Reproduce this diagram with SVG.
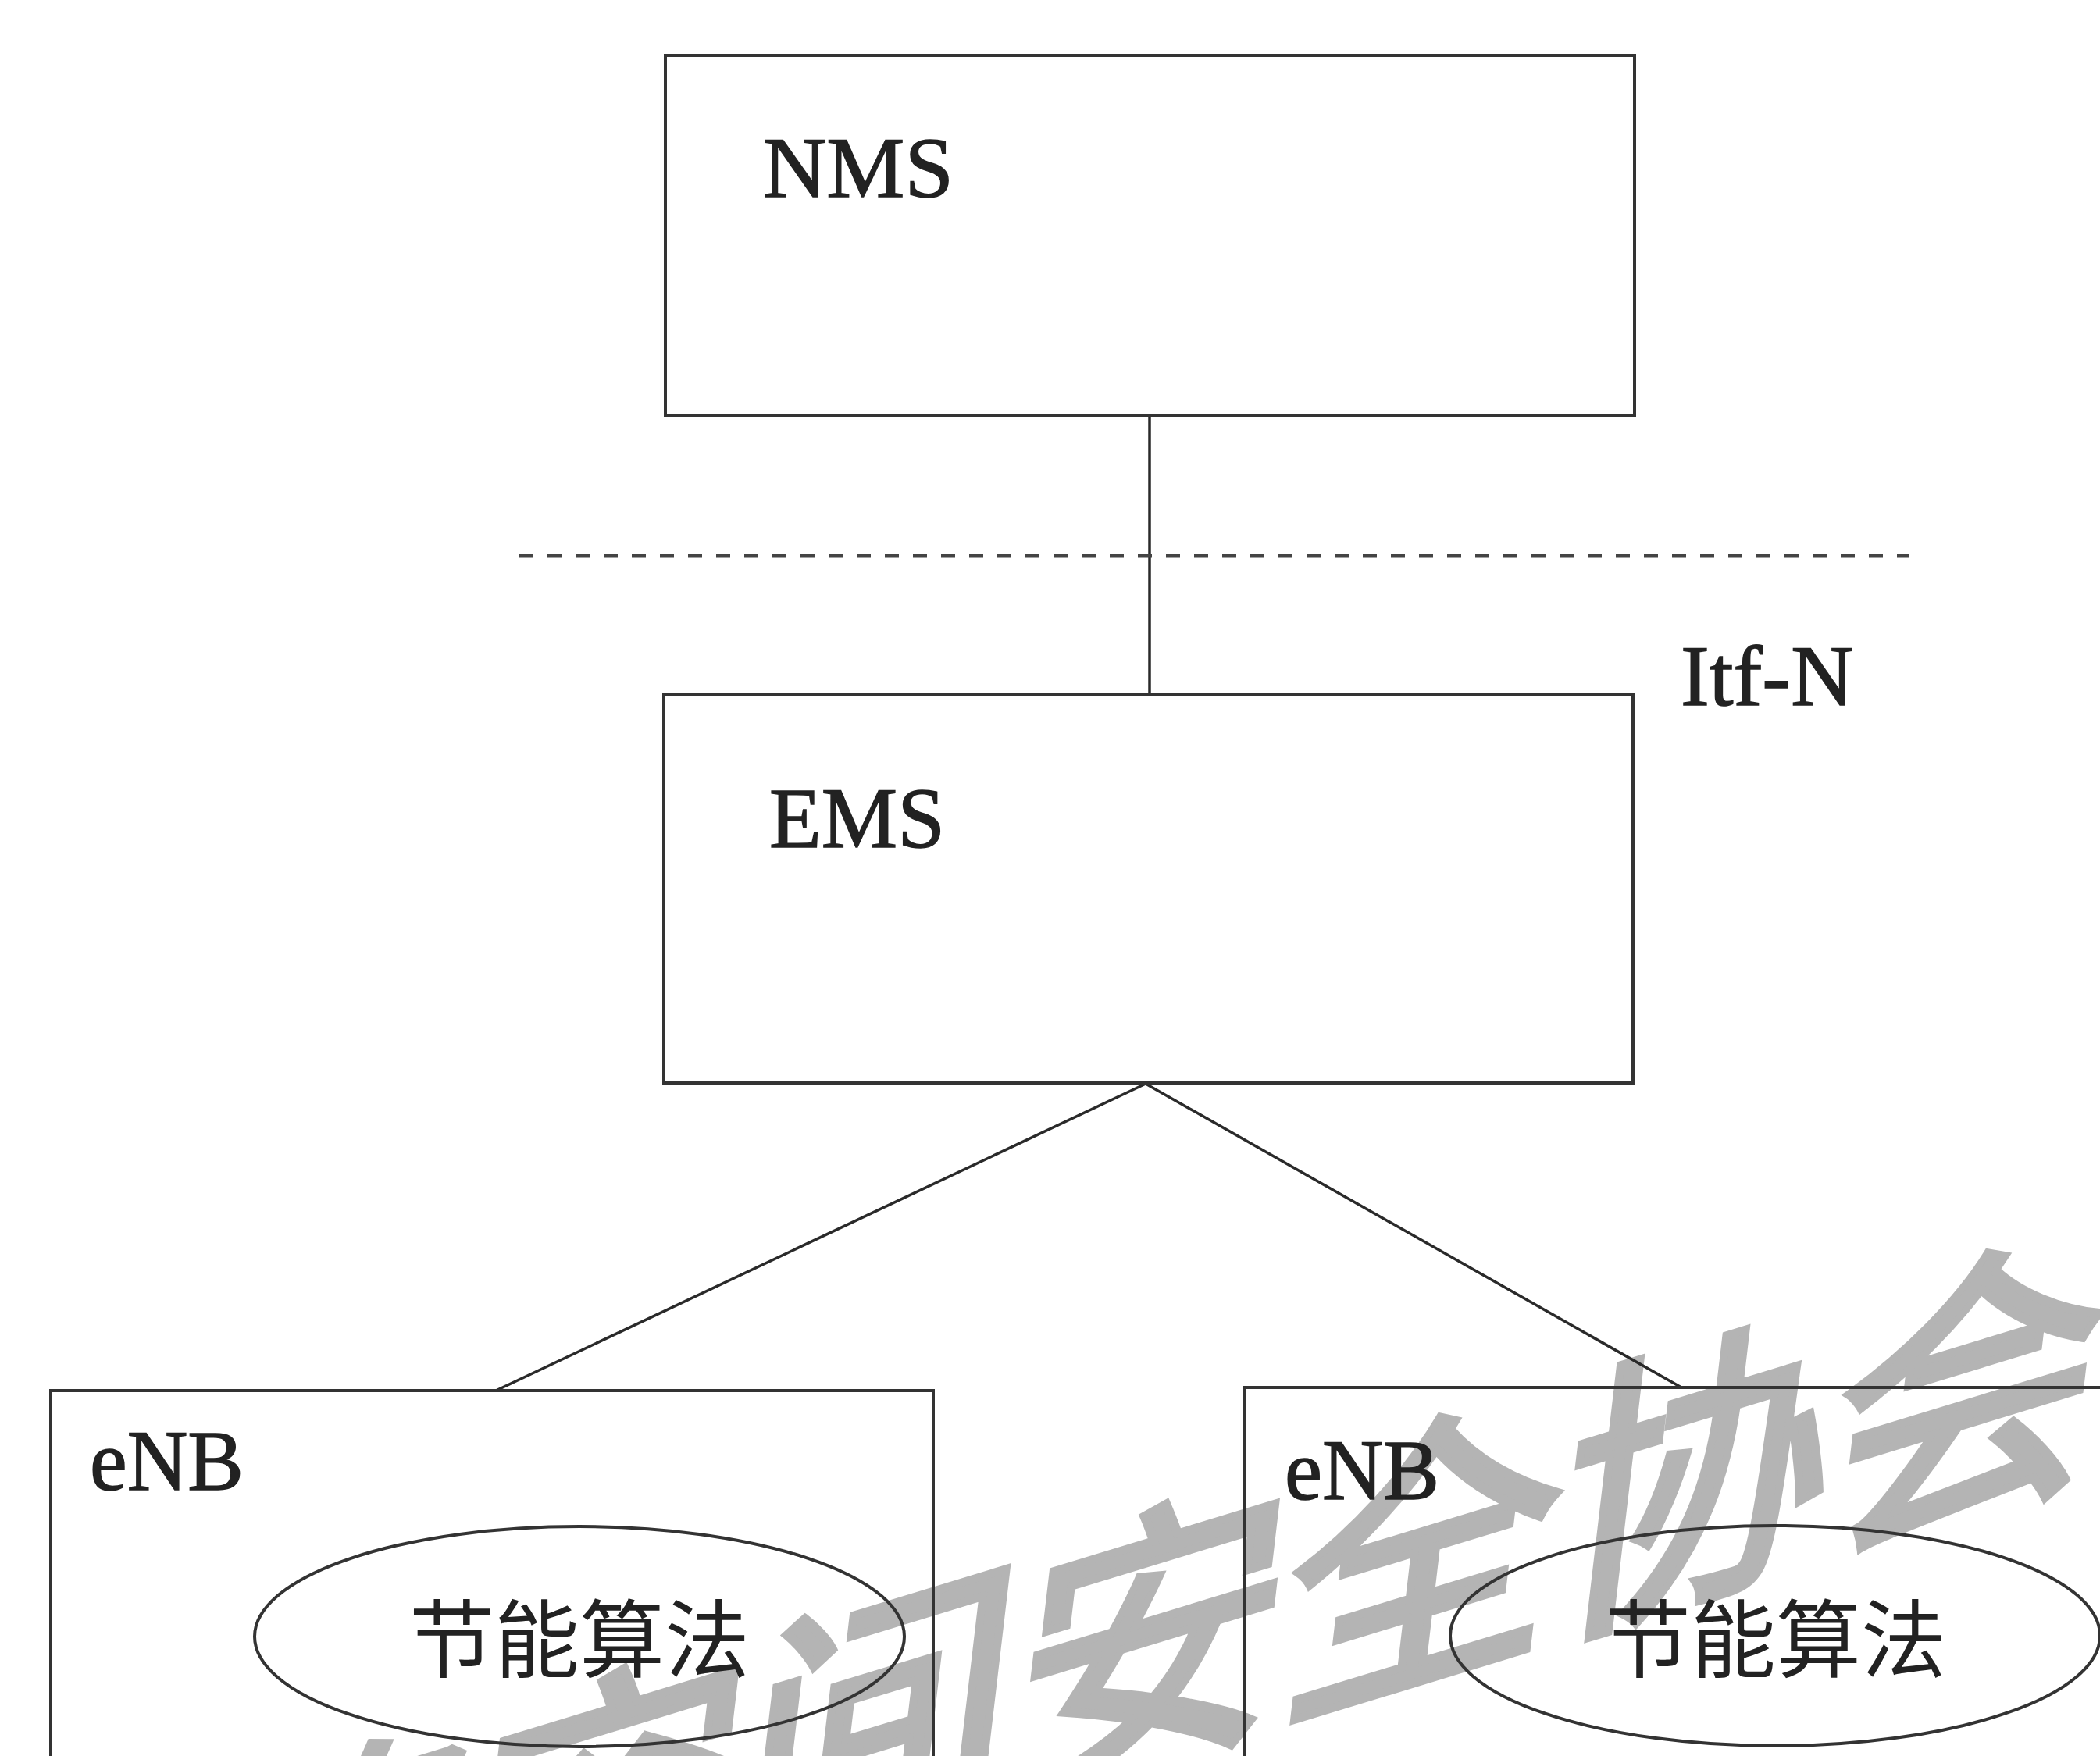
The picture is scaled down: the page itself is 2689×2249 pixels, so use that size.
<svg xmlns="http://www.w3.org/2000/svg" width="2689" height="2249" viewBox="0 0 2689 2249">
<style>
.box{fill:none;stroke:#333;stroke-width:4}
.conn{fill:none;stroke:#2a2a2a;stroke-width:3.5}
.dash{fill:none;stroke:#444;stroke-width:5;stroke-dasharray:18 18}
.lbl{font-family:"Liberation Serif","Times New Roman",serif;font-size:110px;fill:#222;stroke:#222;stroke-width:1.5}
.cjk{font-family:"Noto Sans CJK SC","Noto Sans",sans-serif;font-size:109px;fill:#222;text-anchor:middle}
.wm{font-family:"Noto Sans CJK SC",sans-serif;font-size:365px;fill:#b4b4b4;stroke:#b4b4b4;stroke-width:11}
</style>
<rect width="2689" height="2249" fill="#fff"/>
<g id="watermark" transform="translate(1475,2100) matrix(0.956,-0.292,-0.122,1.04,0,0)">
<text class="wm" x="-2372" y="139">中国网络空间安全协会</text>
</g>
<g id="connectors">
<line class="conn" x1="1472" y1="532" x2="1472" y2="889"/>
<line class="dash" x1="665" y1="712" x2="2444" y2="712"/>
<line class="conn" x1="1467" y1="1388" x2="635" y2="1781"/>
<line class="conn" x1="1467" y1="1388" x2="2153" y2="1777"/>
</g>
<g id="nms">
<rect class="box" x="852" y="71" width="1241" height="461"/>
<text class="lbl" x="977" y="252" textLength="244" lengthAdjust="spacingAndGlyphs">NMS</text>
</g>
<g id="itfn">
<text class="lbl" x="2152" y="903" textLength="221" lengthAdjust="spacingAndGlyphs">Itf-N</text>
</g>
<g id="ems">
<rect class="box" x="850" y="889" width="1241" height="498"/>
<text class="lbl" x="985" y="1085" textLength="225" lengthAdjust="spacingAndGlyphs">EMS</text>
</g>
<g id="enb-left">
<rect class="box" x="65" y="1781" width="1130" height="500"/>
<text class="lbl" x="115" y="1908" textLength="197" lengthAdjust="spacingAndGlyphs">eNB</text>
<ellipse class="box" cx="742" cy="2096" rx="416" ry="141"/>
<text class="cjk" x="742" y="2140">节能算法</text>
</g>
<g id="enb-right">
<rect class="box" x="1594" y="1777" width="1200" height="500"/>
<text class="lbl" x="1645" y="1920" textLength="198" lengthAdjust="spacingAndGlyphs">eNB</text>
<ellipse class="box" cx="2273" cy="2095" rx="416" ry="141"/>
<text class="cjk" x="2274" y="2140">节能算法</text>
</g>
</svg>
